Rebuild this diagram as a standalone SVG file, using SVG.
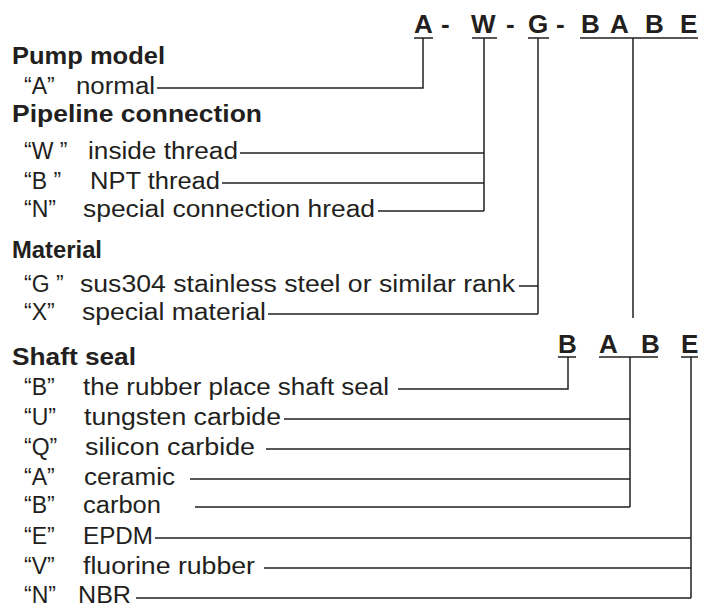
<svg xmlns="http://www.w3.org/2000/svg" width="709" height="607" viewBox="0 0 709 607">
<style>
text{font-family:"Liberation Sans",Arial,sans-serif;fill:#231f20}
.t{font-size:23px}
.q{font-size:23px}
.h{font-size:23px;font-weight:bold}
.c{font-size:26px;font-weight:bold}
.ln{stroke:#231f20;stroke-width:1.5;fill:none}
</style>
<rect width="709" height="607" fill="#fff"/>
<g id="code-top">
<text class="c" x="414" y="33">A</text><text class="c" x="441" y="33">-</text>
<text class="c" x="471" y="33">W</text><text class="c" x="506" y="33">-</text>
<text class="c" x="528" y="33">G</text><text class="c" x="556" y="33">-</text>
<text class="c" x="581" y="33">B</text><text class="c" x="610" y="33">A</text>
<text class="c" x="645" y="33">B</text><text class="c" x="680" y="33">E</text>
<path class="ln" d="M414 38H433M472 38H497M528 38H549M580 38H698"/>
</g>
<g id="pump-model">
<text class="h" x="12" y="64" textLength="153" lengthAdjust="spacingAndGlyphs">Pump model</text>
<text class="q" x="24" y="94">“A”</text><text class="t" x="76" y="94" textLength="79" lengthAdjust="spacingAndGlyphs">normal</text>
</g>
<g id="pipeline">
<text class="h" x="12" y="122" textLength="250" lengthAdjust="spacingAndGlyphs">Pipeline connection</text>
<text class="q" x="24" y="159">“W ”</text><text class="t" x="88" y="159" textLength="150" lengthAdjust="spacingAndGlyphs">inside thread</text>
<text class="q" x="24" y="189">“B ”</text><text class="t" x="90" y="189" textLength="130" lengthAdjust="spacingAndGlyphs">NPT thread</text>
<text class="q" x="24" y="217">“N”</text><text class="t" x="83" y="217" textLength="292" lengthAdjust="spacingAndGlyphs">special connection hread</text>
</g>
<g id="material">
<text class="h" x="12" y="258" textLength="90" lengthAdjust="spacingAndGlyphs">Material</text>
<text class="q" x="24" y="292">“G ”</text><text class="t" x="80" y="292" textLength="435" lengthAdjust="spacingAndGlyphs">sus304 stainless steel or similar rank</text>
<text class="q" x="24" y="320">“X”</text><text class="t" x="82" y="320" textLength="184" lengthAdjust="spacingAndGlyphs">special material</text>
</g>
<g id="code-seal">
<text class="c" x="558" y="353">B</text><text class="c" x="599" y="353">A</text>
<text class="c" x="641" y="353">B</text><text class="c" x="681" y="353">E</text>
<path class="ln" d="M558 357H576M599 357H658M681 357H698"/>
</g>
<g id="shaft-seal">
<text class="h" x="12" y="365" textLength="124" lengthAdjust="spacingAndGlyphs">Shaft seal</text>
<text class="q" x="24" y="395">“B”</text><text class="t" x="83" y="395" textLength="306" lengthAdjust="spacingAndGlyphs">the rubber place shaft seal</text>
<text class="q" x="24" y="425">“U”</text><text class="t" x="84" y="425" textLength="197" lengthAdjust="spacingAndGlyphs">tungsten carbide</text>
<text class="q" x="24" y="455">“Q”</text><text class="t" x="85" y="455" textLength="170" lengthAdjust="spacingAndGlyphs">silicon carbide</text>
<text class="q" x="24" y="485">“A”</text><text class="t" x="84" y="485" textLength="91" lengthAdjust="spacingAndGlyphs">ceramic</text>
<text class="q" x="24" y="513">“B”</text><text class="t" x="83" y="513" textLength="78" lengthAdjust="spacingAndGlyphs">carbon</text>
<text class="q" x="24" y="544">“E”</text><text class="t" x="83" y="544" textLength="70" lengthAdjust="spacingAndGlyphs">EPDM</text>
<text class="q" x="24" y="574">“V”</text><text class="t" x="83" y="574" textLength="172" lengthAdjust="spacingAndGlyphs">fluorine rubber</text>
<text class="q" x="24" y="603">“N”</text><text class="t" x="78" y="603" textLength="53" lengthAdjust="spacingAndGlyphs">NBR</text>
</g>
<g id="connectors">
<path class="ln" d="M423 38V88H157"/>
<path class="ln" d="M484 38V211M240 153H484M222 183H484M378 211H484"/>
<path class="ln" d="M538 38V314M519 286H538M268 314H538"/>
<path class="ln" d="M633 38V318"/>
<path class="ln" d="M568 357V389H398"/>
<path class="ln" d="M630 357V507M284 419H630M266 449H630M190 479H630M195 507H630"/>
<path class="ln" d="M691 357V598M155 538H691M264 568H691M136 598H691"/>
</g>
</svg>
